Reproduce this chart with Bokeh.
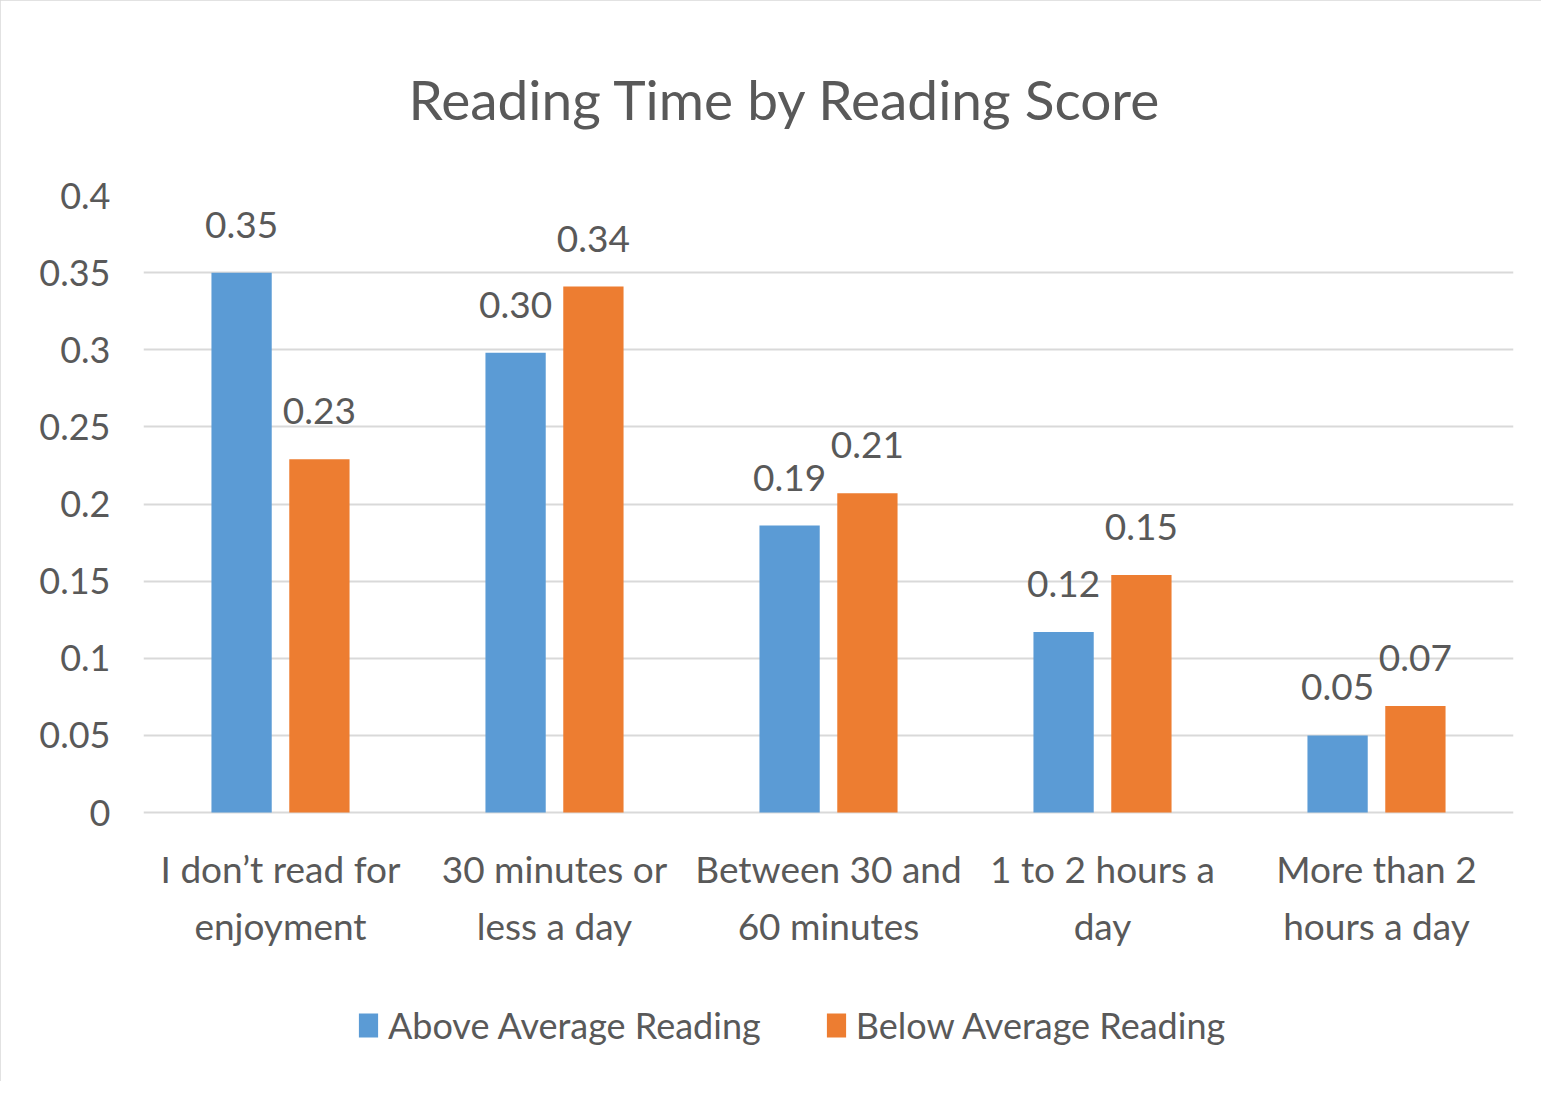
from bokeh.plotting import figure
from bokeh.models import (ColumnDataSource, FactorRange, Range1d, FixedTicker,
                          LabelSet, Legend, LegendItem)
from bokeh.core.properties import value
from bokeh.transform import dodge
from bokeh.embed import file_html
from bokeh.resources import INLINE

# ---- data ----
categories = ["I don\u2019t read for\nenjoyment", "30 minutes or\nless a day",
              "Between 30 and\n60 minutes", "1 to 2 hours a\nday", "More than 2\nhours a day"]
above_avg = [0.350, 0.298, 0.186, 0.117, 0.050]
below_avg = [0.229, 0.341, 0.207, 0.154, 0.069]
series_names = ["Above Average Reading", "Below Average Reading"]
y_ticks = [0, 0.05, 0.1, 0.15, 0.2, 0.25, 0.3, 0.35, 0.4]
y_tick_labels = ["0", "0.05", "0.1", "0.15", "0.2", "0.25", "0.3", "0.35", "0.4"]

FONT = "Lato"
TXT = "#595959"
BLUE = "#5B9BD5"
ORANGE = "#ED7D31"
GRID = "#D9D9D9"

# layout: value axis 0..0.4 spans AXIS_PX pixels; frame extends below 0 to hold
# category labels and legend
AXIS_PX = 617
FRAME_H = 875
Y_MAX = y_ticks[-1]
Y_MIN = -Y_MAX * (FRAME_H - AXIS_PX) / AXIS_PX

src = ColumnDataSource(dict(
    cat=categories,
    line1=[c.split("\n")[0] for c in categories],
    line2=[c.split("\n")[1] for c in categories],
    zero=[0] * len(categories),
    above=above_avg,
    below=below_avg,
    above_lbl=[f"{v:.2f}" for v in above_avg],
    below_lbl=[f"{v:.2f}" for v in below_avg],
))

p = figure(x_range=FactorRange(*categories), y_range=Range1d(Y_MIN, Y_MAX),
           frame_width=1370, frame_height=FRAME_H,
           min_border_left=143, min_border_right=28, min_border_top=195, min_border_bottom=11,
           output_backend="svg", toolbar_location=None, x_axis_location=None,
           title="Reading Time by Reading Score")

p.styles = {"outline": "3px solid #D9D9D9", "outline-offset": "-3px"}

p.title.text_font = FONT
p.title.text_font_size = "55px"
p.title.text_font_style = "normal"
p.title.text_color = TXT
p.title.align = "left"
p.title.offset = 265
p.title.standoff = 127

off = 0.142
w = 0.22
r1 = p.vbar(x=dodge("cat", -off, range=p.x_range), top="above", width=w, source=src,
            fill_color=BLUE, line_color=None)
r2 = p.vbar(x=dodge("cat", off, range=p.x_range), top="below", width=w, source=src,
            fill_color=ORANGE, line_color=None)

for col, lbl, d in (("above", "above_lbl", -off), ("below", "below_lbl", off)):
    ls = LabelSet(x=dodge("cat", d, range=p.x_range), y=col, text=lbl, source=src,
                  text_align="center", text_baseline="bottom", y_offset=35,
                  text_font=value(FONT), text_font_size=value("37px"), text_color=TXT)
    p.add_layout(ls)

# category labels (two centred lines below the zero line)
for col, yo in (("line1", -33), ("line2", -90)):
    p.add_layout(LabelSet(x="cat", y="zero", text=col, source=src,
                          text_align="center", text_baseline="top", y_offset=yo,
                          text_font=value(FONT), text_font_size=value("37px"),
                          text_color=TXT))

# y axis
p.yaxis.ticker = FixedTicker(ticks=y_ticks)
p.yaxis.major_label_overrides = {t: l for t, l in zip(y_ticks, y_tick_labels)}
p.yaxis.axis_line_color = None
p.yaxis.major_tick_line_color = None
p.yaxis.minor_tick_line_color = None
p.yaxis.major_label_standoff = 27
p.yaxis.major_label_text_font = FONT
p.yaxis.major_label_text_font_size = "36px"
p.yaxis.major_label_text_color = TXT

p.xgrid.visible = False
p.ygrid.ticker = FixedTicker(ticks=y_ticks)
p.ygrid.grid_line_color = GRID
p.ygrid.grid_line_width = 2
p.outline_line_color = None

legend = Legend(items=[LegendItem(label=series_names[0], renderers=[r1]),
                       LegendItem(label=series_names[1], renderers=[r2])],
                orientation="horizontal", location=(213, 23),
                label_text_font=FONT, label_text_font_size="36px", label_text_color=TXT,
                glyph_width=24, glyph_height=30, label_standoff=8, spacing=63,
                padding=0, margin=0, border_line_color=None, background_fill_alpha=0)
p.add_layout(legend, "center")

open("out.html", "w").write(file_html(p, INLINE))
